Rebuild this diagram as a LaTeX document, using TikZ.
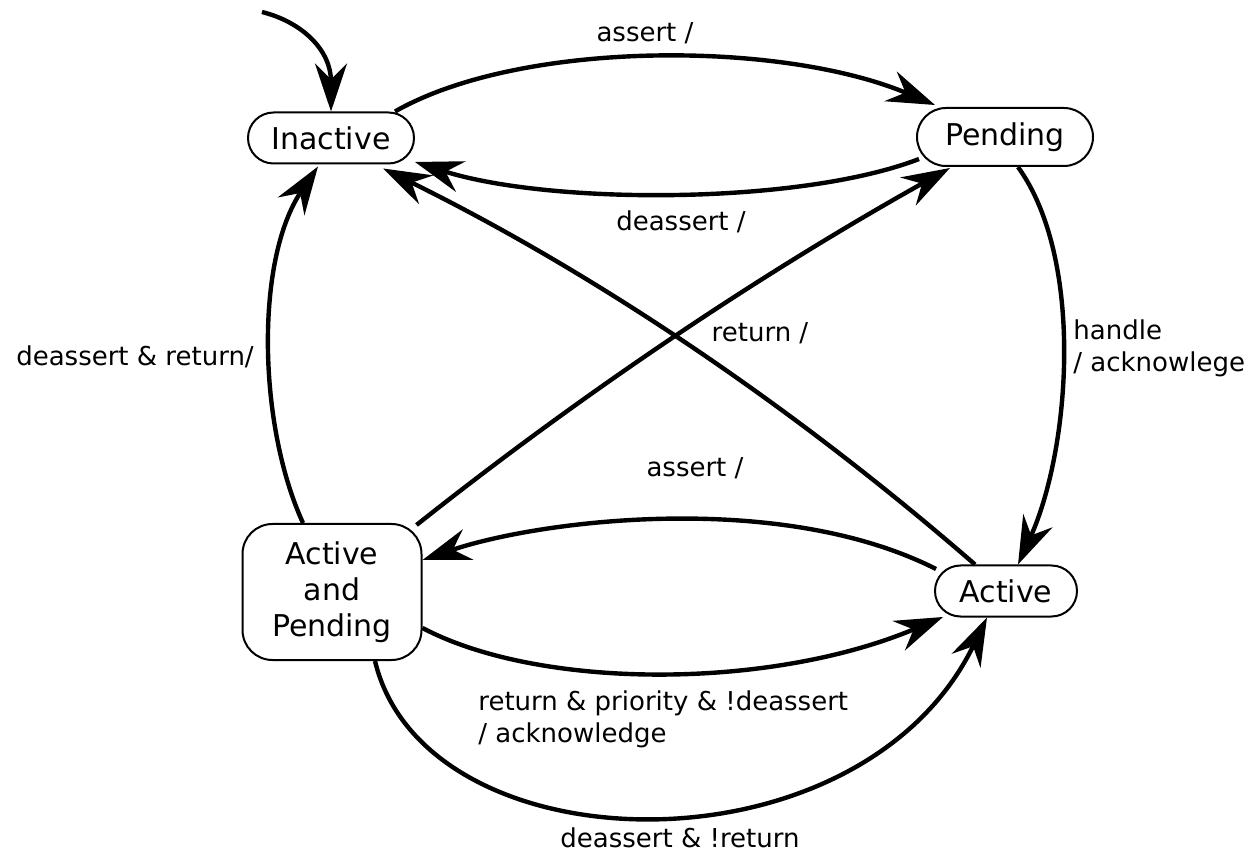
\documentclass[tikz,border=0pt]{standalone}
\usepackage{fontspec}
\setmainfont{DejaVu Sans}
\usetikzlibrary{arrows.meta}

\tikzset{
  state/.style={draw, line width=1pt, fill=white, inner sep=0pt,
    font=\fontsize{15}{18}\selectfont, align=center},
  trans/.style={line width=2.2pt, -{Stealth[length=24pt,width=16pt,inset=8pt]}},
  lbl/.style={inner sep=0pt, font=\fontsize{13}{16}\selectfont}
}

\begin{document}
\begin{tikzpicture}[x=0.5pt, y=-0.5pt]
  \useasboundingbox (0,0) rectangle (1259,855);

  % states
  \node[state, minimum width=83pt, minimum height=25.5pt, rounded corners=12.75pt]
    (ina) at (331,138) {Inactive};
  \node[state, minimum width=88pt, minimum height=29pt, rounded corners=14.5pt]
    (pen) at (1005,137) {Pending};
  \node[state, minimum width=71pt, minimum height=25.5pt, rounded corners=12.75pt]
    (act) at (1006,591) {Active};
  \node[state, minimum width=89.5pt, minimum height=68pt, rounded corners=15pt]
    (ap) at (332,592) {Active\\and\\Pending};

  % initial transition
  \coordinate (init) at (262,12);
  \draw[trans] (init) .. controls (302,22) and (331,50) .. (ina.north);

  % Inactive -> Pending
  \draw[trans] ([xshift=32pt]ina.north) .. controls (520,40) and (780,40) ..
    ([xshift=-35pt,yshift=1pt]pen.north);
  \node[lbl] (l1) at (645,33) {assert /};

  % Pending -> Inactive
  \draw[trans] ([xshift=-43pt,yshift=-11pt]pen.center) .. controls (800,205) and (550,205) ..
    ([xshift=42pt,yshift=-12pt]ina.center);
  \node[lbl] (l2) at (681,222) {deassert /};

  % Pending -> Active
  \draw[trans] ([xshift=6.5pt]pen.south) .. controls (1085,260) and (1070,450) ..
    ([xshift=6pt]act.north);
  \node[lbl, anchor=west, align=left] (l3) at (1073,348) {handle\\/ acknowlege};

  % Active -> Inactive
  \draw[trans] ([xshift=-15.5pt]act.north) .. controls (795,408) and (597,274) ..
    ([xshift=26pt,yshift=-2pt]ina.south);
  \node[lbl] (l4) at (760,333) {return /};

  % Active and Pending -> Inactive
  \draw[trans] ([xshift=-14.5pt]ap.north) .. controls (258,425) and (255,260) ..
    ([xshift=-6.5pt,yshift=-1pt]ina.south);
  \node[lbl] (l5) at (135,357) {deassert \& return/};

  % Active and Pending -> Pending
  \draw[trans] ([xshift=-3pt,yshift=-1pt]ap.north east) .. controls (584,392) and (762,273) ..
    ([xshift=-27.5pt,yshift=-0.5pt]pen.south);

  % Active -> Active and Pending
  \draw[trans] ([xshift=-35pt,yshift=11pt]act.center) .. controls (780,490) and (540,520) ..
    ([yshift=16pt]ap.east);
  \node[lbl] (l6) at (695,468) {assert /};

  % Active and Pending -> Active
  \draw[trans] ([yshift=-18pt]ap.east) .. controls (540,690) and (770,690) ..
    ([xshift=-31.5pt,yshift=-13pt]act.center);
  \node[lbl, anchor=west, align=left] (l7) at (478,719)
    {return \& priority \& !deassert\\/ acknowledge};

  \draw[trans] ([xshift=21.5pt]ap.south) .. controls (425,870) and (860,880) ..
    ([xshift=-9.5pt]act.south);
  \node[lbl] (l8) at (680,838) {deassert \& !return};
\end{tikzpicture}
\end{document}
